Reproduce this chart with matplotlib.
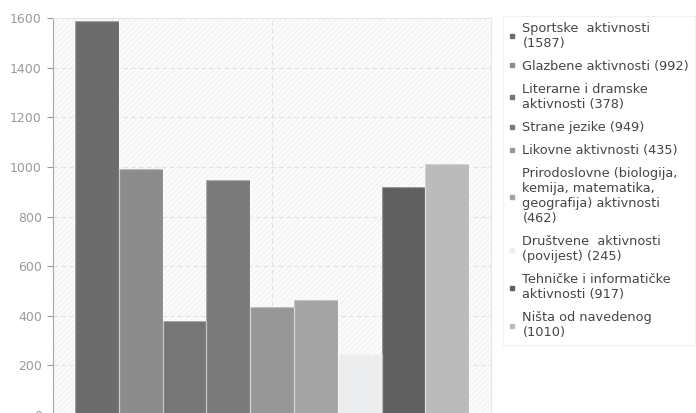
import matplotlib
matplotlib.use("Agg")
import matplotlib.pyplot as plt
from matplotlib.patches import Rectangle

# podaci
kategorije = ["Sportske  aktivnosti\n(1587)",
              "Glazbene aktivnosti (992)",
              "Literarne i dramske\naktivnosti (378)",
              "Strane jezike (949)",
              "Likovne aktivnosti (435)",
              "Prirodoslovne (biologija,\nkemija, matematika,\ngeografija) aktivnosti\n(462)",
              "Društvene  aktivnosti\n(povijest) (245)",
              "Tehničke i informatičke\naktivnosti (917)",
              "Ništa od navedenog\n(1010)"]
vrijednosti = [1587, 992, 378, 949, 435, 462, 245, 917, 1010]
boje = ["#6c6c6c", "#8c8c8c", "#767676", "#7a7a7a", "#979797",
        "#a4a4a4", "#ecedee", "#5f605f", "#bbbbbb"]
y_ticks = [0, 200, 400, 600, 800, 1000, 1200, 1400, 1600]

plt.rcParams['font.family'] = ['DejaVu Sans']
plt.rcParams['hatch.color'] = '#efefef'
plt.rcParams['hatch.linewidth'] = 0.6

fig = plt.figure(figsize=(6.96, 4.13), dpi=100)
ax = fig.add_axes([53 / 696, -2 / 413, 438 / 696, 397 / 413])
ax.set_facecolor('#fafbfb')
ax.add_patch(Rectangle((0, 0), 1, 1, transform=ax.transAxes, facecolor='none',
                       hatch='//////', lw=0, zorder=0))

x = list(range(len(vrijednosti)))
bars = ax.bar(x, vrijednosti, width=1.0, color=boje, linewidth=0, zorder=3)
for b in bars:
    ax.add_patch(Rectangle(b.get_xy(), b.get_width(), b.get_height(), facecolor='none',
                           edgecolor='white', alpha=0.35, lw=0.9, zorder=4))

ax.set_xlim(-1, 9)
ax.set_ylim(0, 1600)
ax.set_yticks(y_ticks)
ax.set_xticks([])
for t in y_ticks[1:-1]:
    ax.axhline(t, color='#e0e0e0', lw=0.8, ls=(0, (4, 3)), zorder=1)
ax.axvline(4, color='#e0e0e0', lw=0.8, ls=(0, (4, 3)), zorder=1)

ax.tick_params(axis='y', colors='#9a9a9a', labelsize=9.0, length=4, width=0.8, pad=4)
ax.spines['left'].set_color('#a8a8a8')
ax.spines['bottom'].set_color('#a8a8a8')
for s in ['top', 'right']:
    ax.spines[s].set_color('#e6e6e6')

handles = [plt.Line2D([], [], marker='s', ls='', color=c, markersize=3.5) for c in boje]
leg = fig.legend(handles, kategorije, loc='upper left', bbox_to_anchor=(503 / 696, 1 - 16 / 413),
                 fontsize=9.3, frameon=True, handlelength=0.5, handletextpad=0.55,
                 labelspacing=0.78, borderpad=0.45, borderaxespad=0, labelcolor='#454545')
leg.get_frame().set_edgecolor('#eeeeee')
leg.get_frame().set_linewidth(0.8)
leg.get_frame().set_boxstyle('square', pad=0)
for t in leg.get_texts():
    t.set_linespacing(1.2)

plt.savefig("out.png", dpi=100)
